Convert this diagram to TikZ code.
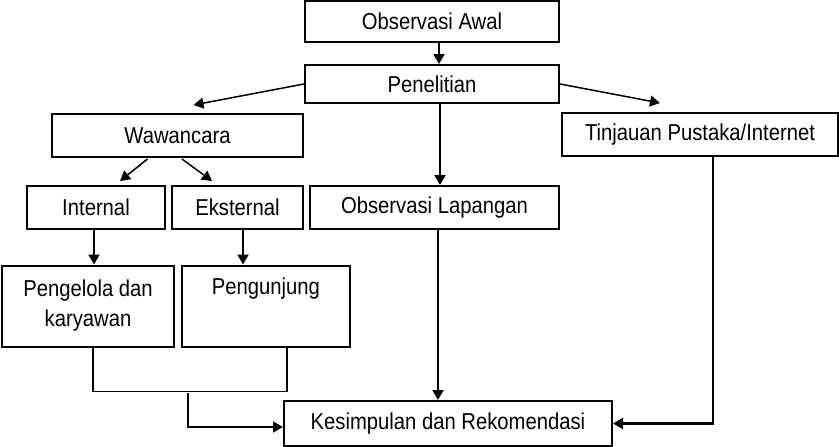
\documentclass[tikz,border=0pt]{standalone}
\usepackage{fontspec}
\setmainfont{Liberation Sans}[FakeStretch=0.88]
\usetikzlibrary{arrows.meta,calc}

\tikzset{
  box/.style       = {shape=rectangle, draw, line width=2pt,
                      inner sep=0pt, align=center,
                      font=\fontsize{23}{30}\selectfont},
  tallbox/.style   = {box, minimum height=81pt},
  link/.style      = {draw, line width=2.2pt,
                      -{Triangle[length=10pt,width=11pt]}},
  thinlink/.style  = {link, line width=1.5pt},
  joint/.style     = {draw, line width=1.5pt}
}

\begin{document}
\begin{tikzpicture}
  [
    x = 1pt,
    y = -1pt
  ]
  \useasboundingbox (0,0) rectangle (839,447);

  \node [box, minimum width=254pt, minimum height=41pt] (awal)       at (432,21.5)  {Observasi Awal};
  \node [box, minimum width=254pt, minimum height=38pt] (penelitian) at (432,84)    {Penelitian};
  \node [box, minimum width=251pt, minimum height=43pt] (wawancara)  at (177.5,135.5) {Wawancara};
  \node [box, minimum width=276pt, minimum height=43pt] (tinjauan)   at (700,134.5) {Tinjauan Pustaka/Internet};
  \node [box, minimum width=138pt, minimum height=43pt] (internal)   at (96,207.5)  {Internal};
  \node [box, minimum width=131pt, minimum height=43pt] (eksternal)  at (237.5,207.5) {Eksternal};
  \node [box, minimum width=249pt, minimum height=43pt] (lapangan)   at (434.5,207.5) {Observasi Lapangan};
  \node [tallbox, minimum width=172pt] (pengelola)  at (88,306)  {Pengelola dan\\karyawan};
  \node [tallbox, minimum width=168pt] (pengunjung) at (266,306) {Pengunjung\\\strut};
  \node [box, minimum width=328pt, minimum height=45pt] (kesimpulan) at (448,423.5) {Kesimpulan dan Rekomendasi};

  \draw [link] ($(awal.south)+(7,0)$) -- ($(penelitian.north)+(7,0)$);
  \draw [link] ($(penelitian.south)+(8,0)$) -- ($(lapangan.north)+(5.5,0)$);
  \draw [thinlink] (penelitian.west) -- ($(wawancara.north)+(16,-8)$);
  \draw [thinlink] (penelitian.east) -- ($(tinjauan.north)+(-40,-9)$);
  \draw [thinlink] ($(wawancara.south)+(-30,1)$) -- ($(internal.north)+(24,-4)$);
  \draw [thinlink] ($(wawancara.south)+(4.5,1)$) -- ($(eksternal.north)+(-25.5,-4)$);
  \draw [link] ($(internal.south)+(-2,0)$) -- ($(pengelola.north)+(6,0)$);
  \draw [link] ($(eksternal.south)+(5.5,0)$) -- ($(pengunjung.north)+(-23,0)$);

  % join of the two interview groups
  \draw [joint] ($(pengelola.south)+(5,0)$) |- ($(pengunjung.south)+(21,44)$)
                -- ($(pengunjung.south)+(21,0)$);
  \coordinate (merge) at (188,393);
  \draw [thinlink] (merge) |- ($(kesimpulan.west)+(0,3.5)$);

  \draw [link] ($(lapangan.south)+(3.5,0)$) -- ($(kesimpulan.north)+(-10,0)$);
  \draw [link] ($(tinjauan.south)+(13,0)$) |- (kesimpulan.east);
\end{tikzpicture}
\end{document}
